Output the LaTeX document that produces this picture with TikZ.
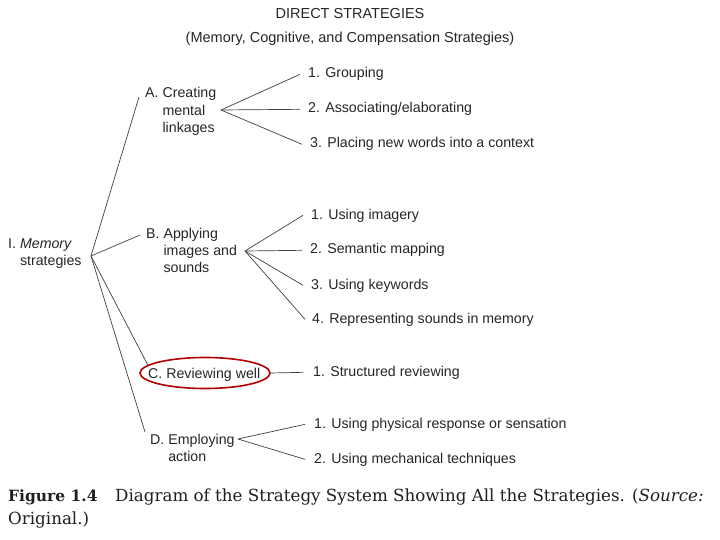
\documentclass[tikz,border=0pt]{standalone}
\usepackage{fontspec}
\setmainfont{Liberation Sans}
\newfontfamily\capfont{DejaVu Serif}
\usetikzlibrary{shapes.geometric}
\begin{document}
\begin{tikzpicture}[x=1pt,y=-1pt,
  txt/.style={anchor=base west, inner sep=0pt, font=\fontsize{14.2}{17.5}\selectfont, text=black!85},
  ttl/.style={anchor=base, inner sep=0pt, font=\fontsize{14.5}{17}\selectfont, text=black!85},
  conn/.style={draw=black!75, line width=0.7pt},
  captxt/.style={anchor=base west, inner sep=0pt, font=\capfont\fontsize{16.7}{20}\selectfont, text=black!88},
  ring/.style={ellipse, draw=red!70!black, line width=1.6pt, minimum width=130pt, minimum height=31pt, inner sep=0pt}
]
\useasboundingbox[fill=white] (0,0) rectangle (720,540);

% titles
\node[ttl] (title) at (350,19) {DIRECT STRATEGIES};
\node[ttl] (sub) at (350,43) {(Memory, Cognitive, and Compensation Strategies)};

% root
\node[txt] (I) at (8,248) {I.\ \begin{tabular}[t]{@{}l@{}}\textit{Memory}\\strategies\end{tabular}};
\coordinate (fanI) at (91,256);

% A
\node[txt] (A) at (145,98) {A.\ \begin{tabular}[t]{@{}l@{}}Creating\\mental\\linkages\end{tabular}};
\coordinate (fanA) at (221,110);
\node[txt] (A1) at (308,78) {1. Grouping};
\node[txt] (A2) at (308,113) {2. Associating/elaborating};
\node[txt] (A3) at (310,148) {3. Placing new words into a context};

% B
\node[txt] (B) at (146,238) {B.\ \begin{tabular}[t]{@{}l@{}}Applying\\images and\\sounds\end{tabular}};
\coordinate (fanB) at (245,251);
\node[txt] (B1) at (311,219) {1. Using imagery};
\node[txt] (B2) at (310,254) {2. Semantic mapping};
\node[txt] (B3) at (311,289) {3. Using keywords};
\node[txt] (B4) at (312,323) {4. Representing sounds in memory};

% C
\node[txt] (C) at (148,378) {C. Reviewing well};
\node[ring] (Cring) at (205,373) {};
\node[txt] (C1) at (313,376) {1. Structured reviewing};

% D
\node[txt] (D) at (150,444) {D.\ \begin{tabular}[t]{@{}l@{}}Employing\\action\end{tabular}};
\coordinate (fanD) at (238,439);
\node[txt] (D1) at (314,428) {1. Using physical response or sensation};
\node[txt] (D2) at (314,463) {2. Using mechanical techniques};

% connectors from root
\draw[conn] (fanI) -- ([xshift=-6pt,yshift=1pt]A.base west);
\draw[conn] (fanI) -- ([xshift=-6pt,yshift=3pt]B.base west);
\draw[conn] (fanI) -- (Cring.172);
\draw[conn] (fanI) -- ([xshift=-5pt,yshift=12pt]D.base west);

% A fan
\draw[conn] (fanA) -- ([xshift=-8pt]A1.west);
\draw[conn] (fanA) -- ([xshift=-8pt]A2.west);
\draw[conn] (fanA) -- ([xshift=-8pt]A3.west);

% B fan
\draw[conn] (fanB) -- ([xshift=-8pt]B1.west);
\draw[conn] (fanB) -- ([xshift=-8pt]B2.west);
\draw[conn] (fanB) -- ([xshift=-8pt]B3.west);
\draw[conn] (fanB) -- ([xshift=-7pt]B4.west);

% C
\draw[conn] (Cring.east) -- ([xshift=-10pt]C1.west);

% D fan
\draw[conn] (fanD) -- ([xshift=-9pt]D1.west);
\draw[conn] (fanD) -- ([xshift=-9pt]D2.west);

% caption
\node[captxt, font=\capfont\fontsize{15.5}{20}\selectfont] (fig) at (8,501) {\bfseries Figure 1.4};
\node[captxt] (capt) at (115,501) {Diagram of the Strategy System Showing All the Strategies. (\textit{Source:}};
\node[captxt] (orig) at (8,524) {Original.)};
\end{tikzpicture}
\end{document}
